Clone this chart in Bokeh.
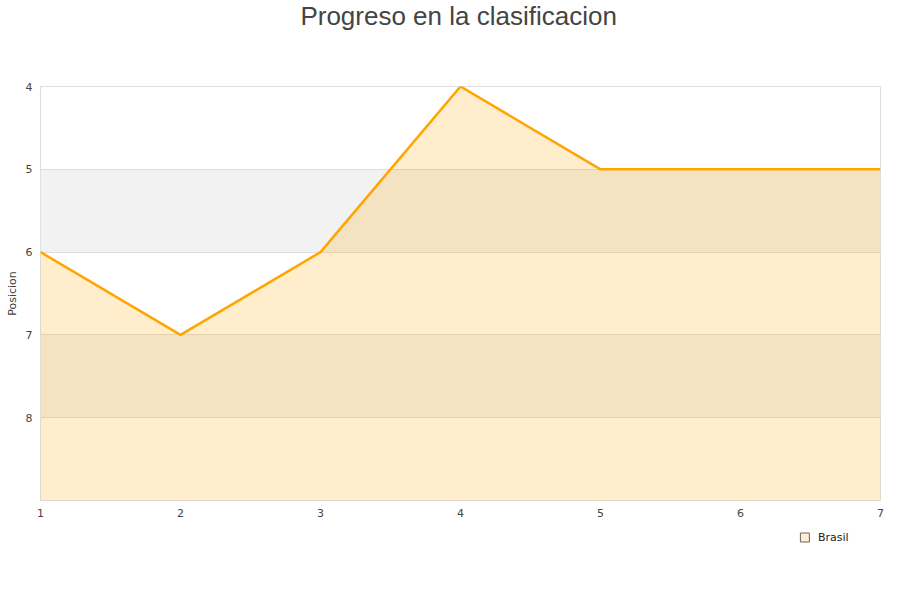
from bokeh.plotting import figure
from bokeh.layouts import column
from bokeh.models import Range1d, FixedTicker, ColumnDataSource
from bokeh.core.properties import value
from bokeh.embed import file_html
from bokeh.resources import INLINE

title_text = "Progreso en la clasificacion"
jornadas = [1, 2, 3, 4, 5, 6, 7]
posicion = [6, 7, 6, 4, 5, 5, 5]
y_ticks = [4, 5, 6, 7, 8]
series_name = "Brasil"
bottom_value = 9

src = ColumnDataSource(dict(x=jornadas, y=posicion, b=[bottom_value] * len(jornadas)))


def strip(height):
    f = figure(width=900, height=height, output_backend="svg", toolbar_location=None,
               title=None, x_range=Range1d(0, 900), y_range=Range1d(height, 0),
               x_axis_location=None, y_axis_location=None,
               min_border=0, min_border_left=0, min_border_right=0,
               min_border_top=0, min_border_bottom=0)
    f.grid.visible = False
    f.outline_line_color = None
    return f


# title strip
tf = strip(30)
tf.text(x=[448], y=[15], text=[title_text], text_align="center", text_baseline="middle",
        text_font=value("Liberation Sans"), text_font_size="26px", text_color="#444444")

# main chart
p = figure(width=900, height=495, output_backend="svg", toolbar_location=None, title=None,
           x_range=Range1d(1, 7), y_range=Range1d(bottom_value, 4),
           min_border_left=40, min_border_right=20, min_border_top=56, min_border_bottom=25)

p.outline_line_color = "#dddddd"
p.xgrid.visible = False
p.ygrid.grid_line_color = "#dddddd"
p.ygrid.band_fill_color = "#f2f2f2"
p.ygrid.band_fill_alpha = 1.0
p.yaxis.ticker = FixedTicker(ticks=y_ticks)
p.xaxis.ticker = FixedTicker(ticks=jornadas)

for ax in (p.xaxis[0], p.yaxis[0]):
    ax.axis_line_color = None
    ax.major_tick_line_color = None
    ax.minor_tick_line_color = None
    ax.major_tick_in = 0
    ax.major_tick_out = 0
    ax.minor_tick_in = 0
    ax.minor_tick_out = 0
    ax.major_label_text_font = "DejaVu Sans"
    ax.major_label_text_font_size = "11px"
    ax.major_label_text_color = "#444444"
p.yaxis.major_label_standoff = 8
p.xaxis.major_label_standoff = 8
p.yaxis.axis_label = "Posicion"
p.yaxis.axis_label_text_font = "DejaVu Sans"
p.yaxis.axis_label_text_font_size = "11px"
p.yaxis.axis_label_text_font_style = "normal"
p.yaxis.axis_label_text_color = "#444444"
p.yaxis.axis_label_standoff = 4

p.varea(x="x", y1="y", y2="b", source=src, fill_color="#ffa500", fill_alpha=0.2)
p.line(x="x", y="y", source=src, line_color="#ffa500", line_width=2.5)

# legend strip
lf = strip(75)
lf.scatter(x=[819], y=[12], marker="square", size=9, fill_color="#ffedcc",
           line_color="#666666", line_width=1)
lf.text(x=[833], y=[12], text=[series_name], text_align="left", text_baseline="middle",
        text_font=value("DejaVu Sans"), text_font_size="11px", text_color="#222222")

layout = column(tf, p, lf, spacing=0)
open("out.html", "w").write(file_html(layout, INLINE))
